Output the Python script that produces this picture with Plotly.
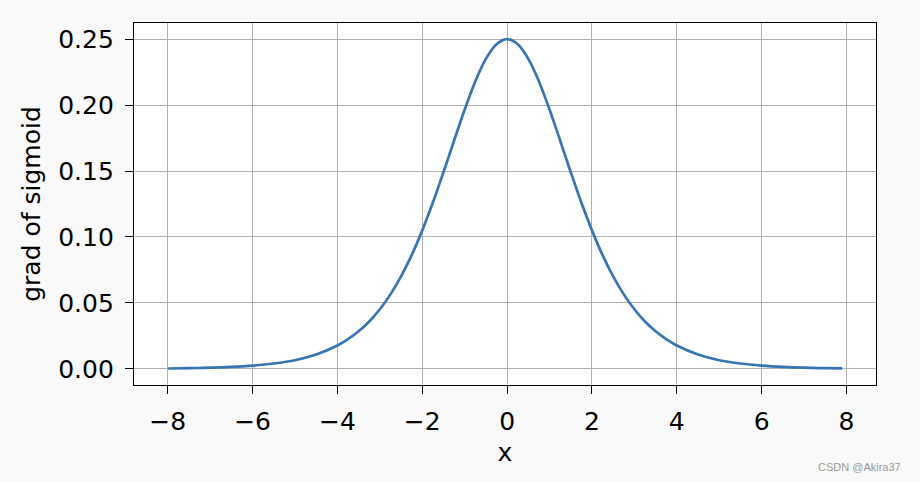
import plotly.graph_objects as go

# values (gradient of sigmoid)
x_vals = [-8.0, -7.5, -7.0, -6.5, -6.0, -5.5, -5.0, -4.5,
          -4.0, -3.75, -3.5, -3.25, -3.0, -2.75, -2.5, -2.25,
          -2.0, -1.75, -1.5, -1.25, -1.0, -0.75, -0.5, -0.25,
          0.0, 0.25, 0.5, 0.75, 1.0, 1.25, 1.5, 1.75,
          2.0, 2.25, 2.5, 2.75, 3.0, 3.25, 3.5, 3.75,
          4.0, 4.5, 5.0, 5.5, 6.0, 6.5, 7.0, 7.5, 7.9]
grad_vals = [0.0003, 0.0006, 0.0009, 0.0015, 0.0025, 0.0041, 0.0066, 0.0109,
             0.0177, 0.0225, 0.0285, 0.0359, 0.0452, 0.0565, 0.0701, 0.0862,
             0.1050, 0.1261, 0.1491, 0.1731, 0.1966, 0.2179, 0.2350, 0.2461,
             0.2500, 0.2461, 0.2350, 0.2179, 0.1966, 0.1731, 0.1491, 0.1261,
             0.1050, 0.0862, 0.0701, 0.0565, 0.0452, 0.0359, 0.0285, 0.0225,
             0.0177, 0.0109, 0.0066, 0.0041, 0.0025, 0.0015, 0.0009, 0.0006, 0.0004]

x_ticks = [-8, -6, -4, -2, 0, 2, 4, 6, 8]
y_ticks = [0.00, 0.05, 0.10, 0.15, 0.20, 0.25]

font = "DejaVu Sans"

fig = go.Figure()
fig.add_trace(go.Scatter(
    x=x_vals, y=grad_vals, mode="lines",
    line=dict(color="#3776b2", width=2.7, shape="spline", smoothing=1.0),
    showlegend=False, hoverinfo="skip",
))

axis_common = dict(
    showline=True, linecolor="black", linewidth=1.3, mirror=True,
    showgrid=True, gridcolor="#b0b0b0", gridwidth=1.3,
    ticks="outside", ticklen=8, tickwidth=1.3, tickcolor="black",
    tickfont=dict(family=font, size=25, color="black"),
    zeroline=False,
)

fig.update_xaxes(
    range=[-8.795, 8.695], tickvals=x_ticks,
    title=dict(text="x", font=dict(family=font, size=25, color="black"), standoff=8),
    ticklabelstandoff=6,
    **axis_common,
)
fig.update_yaxes(
    range=[-0.0122, 0.2622], tickvals=y_ticks, tickformat=".2f",
    title=dict(text="grad of sigmoid", font=dict(family=font, size=25, color="black"), standoff=10),
    ticklabelstandoff=6,
    **axis_common,
)

# watermark
fig.add_annotation(
    text="CSDN @Akira37", xref="paper", yref="paper",
    x=0.978, y=-0.2265, xanchor="center", yanchor="middle",
    showarrow=False, font=dict(family="Liberation Sans", size=11, color="#999999"),
)

fig.update_layout(
    width=920, height=482,
    margin=dict(l=134, r=44, t=23, b=97),
    paper_bgcolor="#f9f9f9", plot_bgcolor="white",
)

fig.write_html("out.html", config={"displayModeBar": False},
               post_script="document.body.style.margin='0';")
